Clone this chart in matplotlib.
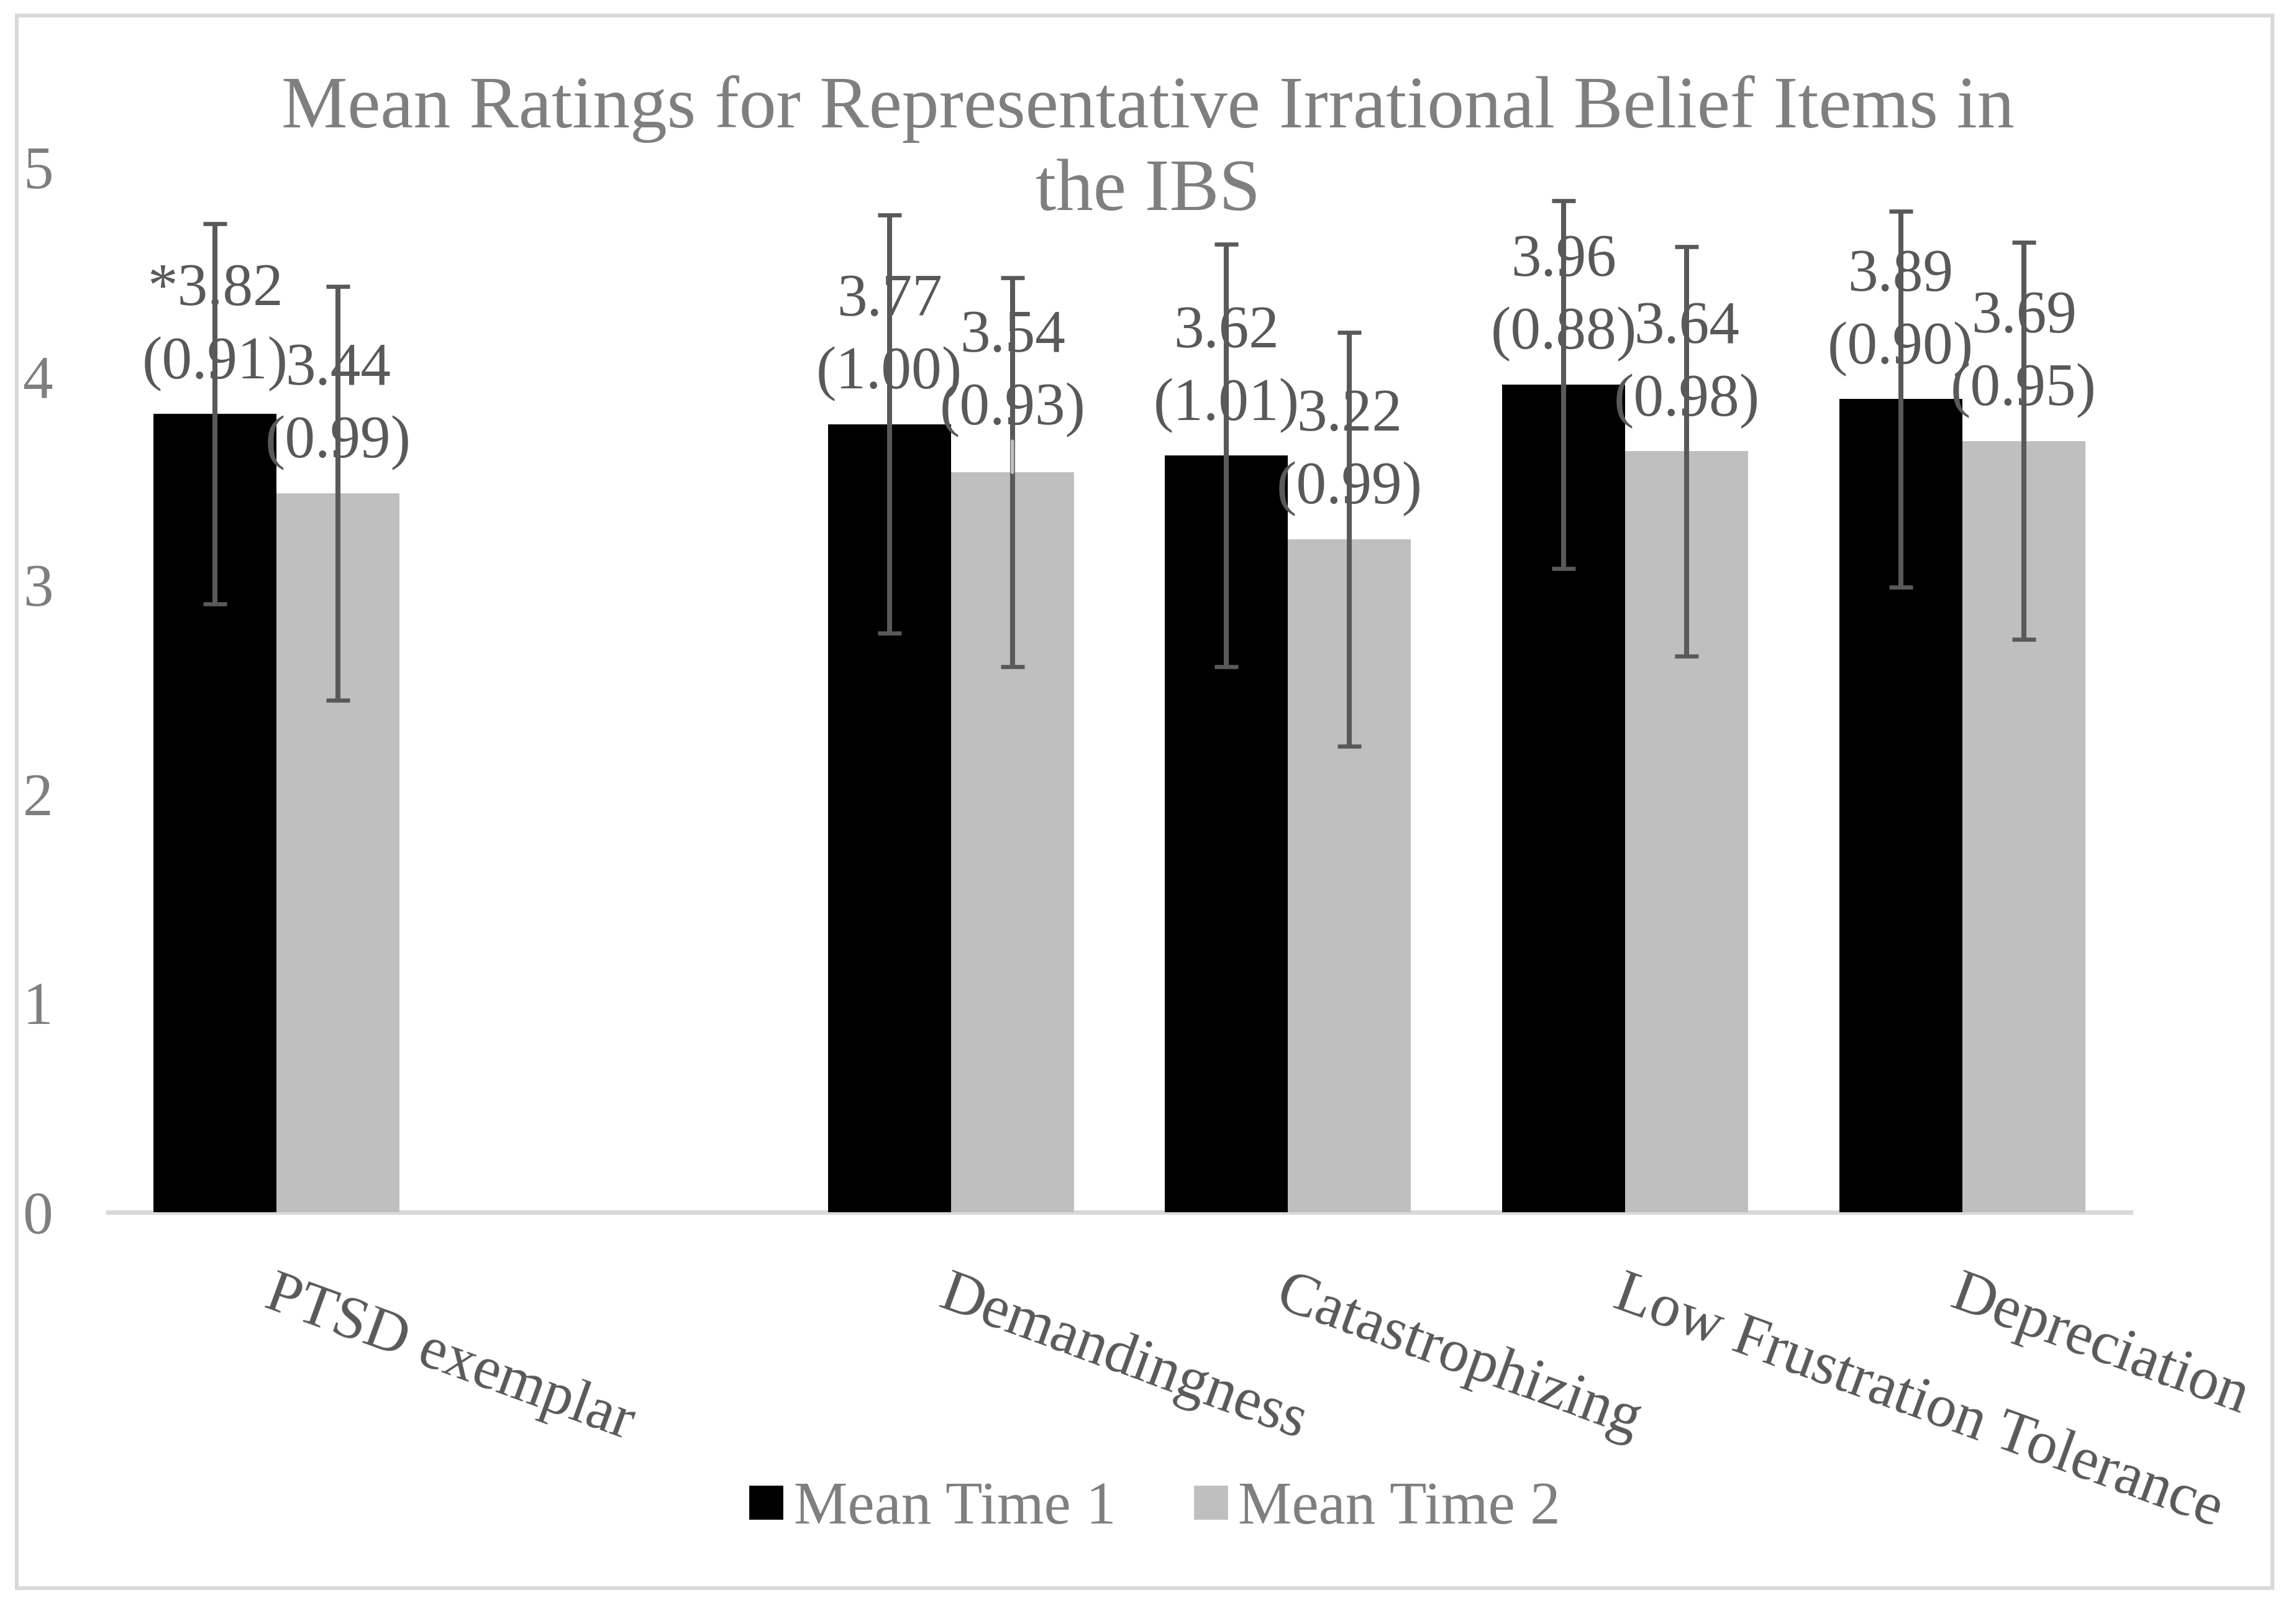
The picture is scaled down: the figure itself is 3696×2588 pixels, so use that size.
import numpy as np
import matplotlib.pyplot as plt
from matplotlib.lines import Line2D
from matplotlib.patches import Rectangle

# chart data (the second category is an empty slot in the original chart)
categories = ["PTSD exemplar", "", "Demandingness", "Catastrophizing",
              "Low Frustration Tolerance", "Depreciation"]
mean_time1 = [3.82, np.nan, 3.77, 3.62, 3.96, 3.89]
sd_time1 = [0.91, np.nan, 1.00, 1.01, 0.88, 0.90]
mean_time2 = [3.44, np.nan, 3.54, 3.22, 3.64, 3.69]
sd_time2 = [0.99, np.nan, 0.93, 0.99, 0.98, 0.95]
series_names = ["Mean Time 1", "Mean Time 2"]
y_ticks = [0, 1, 2, 3, 4, 5]
title = "Mean Ratings for Representative Irrational Belief Items in\nthe IBS"

plt.rcParams["font.family"] = ["Liberation Serif", "DejaVu Serif"]

DARK = "#595959"
LIGHT = "#7f7f7f"
COLORS = ["#000000", "#bfbfbf"]

fig = plt.figure(figsize=(18.48, 12.94), dpi=200)
ax = fig.add_axes([0.0471, 0.2461, 0.8809, 0.6500])

x = np.arange(len(categories))
width = 0.365

series = [(mean_time1, sd_time1), (mean_time2, sd_time2)]
for i, (means, sds) in enumerate(series):
    means = np.array(means, dtype=float)
    sds = np.array(sds, dtype=float)
    xs = x + (i - 0.5) * width
    ax.bar(xs, means, width, color=COLORS[i], zorder=2)
    ax.errorbar(xs, means, yerr=sds, fmt="none", ecolor=DARK,
                elinewidth=2.9, capsize=6.8, capthick=2.4, zorder=3)
    for j, (xv, m, s) in enumerate(zip(xs, means, sds)):
        if np.isnan(m):
            continue
        txt = f"{m:.2f}\n({s:.2f})"
        if i == 0 and j == 0:
            txt = "*" + txt
        if i == 1 and j == 2:
            # this label was dragged up a little in the original, with a leader line
            ax.annotate(txt, (xv, m), xytext=(0, 20), textcoords="offset points",
                        ha="center", va="bottom", multialignment="center",
                        fontsize=35, color=DARK, linespacing=1.43, zorder=4,
                        arrowprops=dict(arrowstyle="-", color="#bfbfbf", lw=2,
                                        shrinkA=0, shrinkB=0))
        else:
            ax.annotate(txt, (xv, m), xytext=(0, 13), textcoords="offset points",
                        ha="center", va="bottom", multialignment="center",
                        fontsize=35, color=DARK, linespacing=1.43, zorder=4)

ax.set_xlim(-0.5, len(categories) - 0.5)
ax.set_ylim(0, 5)
ax.set_yticks(y_ticks)
ax.set_yticklabels([str(t) for t in y_ticks], fontsize=35, color=LIGHT)
ax.tick_params(axis="y", length=0, pad=32)

ax.set_xticks(x)
ax.set_xticklabels(categories, fontsize=35, color=DARK, rotation=-20,
                   ha="left", va="top", rotation_mode="anchor")
ax.tick_params(axis="x", length=0, pad=32)

for side in ["top", "right", "left"]:
    ax.spines[side].set_visible(False)
ax.spines["bottom"].set_color("#d9d9d9")
ax.spines["bottom"].set_linewidth(2.6)
ax.spines["bottom"].set_zorder(1)

fig.text(0.5, 1 - 338 / 2588, title, ha="center", va="baseline",
         fontsize=43, color=LIGHT, linespacing=1.31)

handles = [Line2D([], [], marker="s", linestyle="none", markersize=18.5,
                  markerfacecolor=c, markeredgecolor=c) for c in COLORS]
fig.legend(handles, series_names, loc="center", bbox_to_anchor=(0.503, 0.0618),
           ncol=2, frameon=False, fontsize=35, labelcolor=LIGHT,
           handlelength=0.55, handletextpad=0.18, columnspacing=1.29)

fig.add_artist(Rectangle((0.0073, 0.0124), 0.9824, 0.978, transform=fig.transFigure,
                         fill=False, edgecolor="#d9d9d9", linewidth=2.2))

fig.savefig("out.png", dpi=200, facecolor="white")
